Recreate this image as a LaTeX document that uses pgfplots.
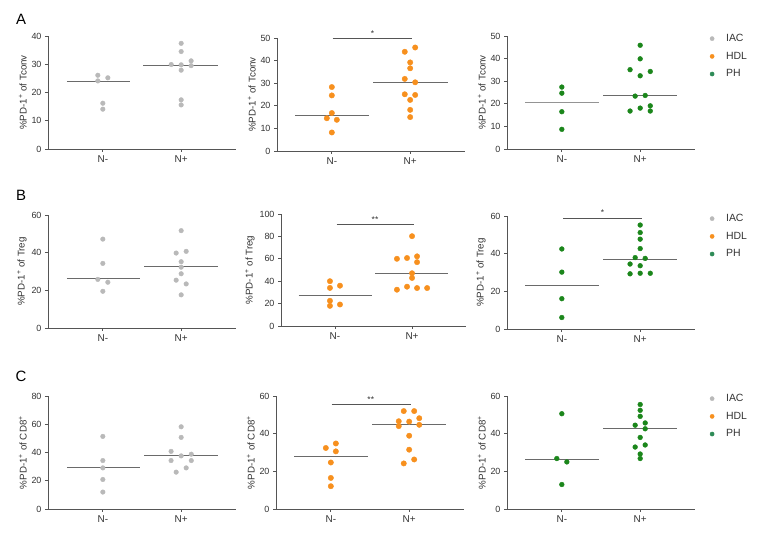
\documentclass[border=0pt]{standalone}
\usepackage{fontspec}
\setmainfont{Liberation Sans}
\usepackage{pgfplots}
\pgfplotsset{compat=1.18}
\definecolor{iacc}{HTML}{B9B9B9}
\definecolor{hdlc}{HTML}{F7901E}
\definecolor{phc}{HTML}{1B861B}
\definecolor{phleg}{HTML}{2E8B57}
\definecolor{axisc}{HTML}{555555}
\definecolor{meanc}{HTML}{6A6A6A}
\definecolor{tickc}{HTML}{333333}
\pgfplotsset{
  panel/.style={scale only axis, width=188bp, height=113bp,
    axis lines*=left, xmin=-0.7, xmax=1.7, ymin=0,
    xtick={0,1}, xticklabels={N-,N+},
    tick align=outside, major tick length=3bp,
    axis line style={draw=axisc, line width=0.8bp},
    tick style={draw=axisc, line width=0.8bp},
    clip=false, anchor=south west,
    /pgf/number format/assume math mode=true,
    yticklabel style={font=\fontsize{9}{10}\selectfont, text=tickc},
    xticklabel style={font=\fontsize{10}{11}\selectfont, text=tickc},
    ylabel style={font=\fontsize{9.8}{11}\selectfont, text=tickc, yshift=-2bp},
  },
  iac/.style={only marks, mark=*, mark size=2.3bp, color=iacc, forget plot},
  hdl/.style={only marks, mark=*, mark size=2.7bp, color=hdlc, forget plot},
  ph/.style={only marks, mark=*, mark size=2.4bp, color=phc, forget plot},
  meanl/.style={no marks, draw=meanc, line width=0.8bp, forget plot},
  sigl/.style={no marks, draw=axisc, line width=0.8bp, forget plot},
  legpanel/.style={
    legend style={at={(1.074,1.035)}, anchor=north west, draw=none, fill=none,
      inner sep=0pt, font=\fontsize{10.5}{12}\selectfont, row sep=5bp,
      text=tickc},
    legend cell align=left,
  },
  legdot/.style={legend image code/.code={%
    \draw[draw=none, only marks, mark=*, mark size=2.1bp, #1] plot coordinates {(3bp,0bp)};
    \path[draw=none, fill=none] (0bp,0bp) -- (15bp,0bp);}},
}
\newcommand\threelegend{%
\addlegendimage{legdot=iacc}
\addlegendentry{IAC}
\addlegendimage{legdot=hdlc}
\addlegendentry{HDL}
\addlegendimage{legdot=phleg}
\addlegendentry{PH}}
\begin{document}
\begin{tikzpicture}
\useasboundingbox (0,0) rectangle (774bp,533bp);
\node[font=\fontsize{15}{17}\selectfont, text=black] at (21bp,514bp) {A};
\node[font=\fontsize{15}{17}\selectfont, text=black] at (21bp,338bp) {B};
\node[font=\fontsize{15}{17}\selectfont, text=black] at (21bp,157bp) {C};

% ---------- A1 IAC Tconv
\begin{axis}[panel, at={(48bp,384bp)}, ymax=40, ytick={0,10,20,30,40},
  ylabel={\%PD-1\textsuperscript{+} of Tconv}]
\addplot[iac] coordinates {(-0.064,26.1) (-0.064,24.1) (0.064,25.2) (0,16.2) (0,14.1)};
\addplot[iac] coordinates {(1,37.4) (1,34.5) (0.873,29.9) (1,29.8) (1.127,31.2) (1.127,29.5) (1,27.9) (1,17.4) (1,15.6)};
\addplot[meanl] coordinates {(-0.46,24.1) (0.35,24.1)};
\addplot[meanl] coordinates {(0.515,29.6) (1.465,29.6)};
\end{axis}

% ---------- A2 HDL Tconv
\begin{axis}[panel, at={(277bp,382bp)}, ymax=50, ytick={0,10,20,30,40,50},
  ylabel={\%PD-1\textsuperscript{+} of Tconv}]
\addplot[hdl] coordinates {(0,28.3) (0,24.6) (0,16.8) (-0.064,14.5) (0.064,13.8) (0,8.2)};
\addplot[hdl] coordinates {(1.064,45.8) (0.931,43.9) (1,39.2) (1,36.6) (0.931,31.9) (1.064,30.4) (0.931,25.1) (1.064,24.8) (1,22.6) (1,18.2) (1,15.0)};
\addplot[meanl] coordinates {(-0.47,15.7) (0.47,15.7)};
\addplot[meanl] coordinates {(0.53,30.4) (1.48,30.4)};
\addplot[sigl] coordinates {(0.01,50) (1.02,50)};
\node[font=\fontsize{8.5}{9}\selectfont, text=tickc] at (axis cs:0.52,52) {*};
\end{axis}

% ---------- A3 PH Tconv
\begin{axis}[panel, legpanel, at={(507bp,384bp)}, ymax=50, ytick={0,10,20,30,40,50},
  ylabel={\%PD-1\textsuperscript{+} of Tconv}]
\addplot[ph] coordinates {(0,27.4) (0,24.7) (0,16.5) (0,8.7)};
\addplot[ph] coordinates {(1,45.9) (1,39.9) (0.871,35.1) (1.129,34.3) (1,32.4) (0.936,23.4) (1.064,23.7) (1.129,19.1) (1,18.1) (0.871,16.8) (1.129,16.8)};
\addplot[meanl, draw=iacc!80!black] coordinates {(-0.47,20.7) (0.47,20.7)};
\addplot[meanl] coordinates {(0.53,23.7) (1.47,23.7)};
\threelegend
\end{axis}

% ---------- B1 IAC Treg
\begin{axis}[panel, at={(48bp,205bp)}, ymax=60, ytick={0,20,40,60},
  ylabel={\%PD-1\textsuperscript{+} of Treg}]
\addplot[iac] coordinates {(0,47.2) (0,34.3) (-0.064,25.8) (0.064,24.3) (0,19.5)};
\addplot[iac] coordinates {(1,51.7) (0.936,39.8) (1.064,40.7) (1,35.2) (1,32.3) (1,28.8) (0.936,25.4) (1.064,23.4) (1,17.6)};
\addplot[meanl] coordinates {(-0.46,26.1) (0.47,26.1)};
\addplot[meanl] coordinates {(0.53,32.5) (1.47,32.5)};
\end{axis}

% ---------- B2 HDL Treg
\begin{axis}[panel, at={(281bp,207bp)}, width=185bp, height=112bp, ymax=100, ytick={0,20,40,60,80,100},
  ylabel={\%PD-1\textsuperscript{+} of Treg}]
\addplot[hdl] coordinates {(-0.065,40) (-0.065,34) (0.065,36) (-0.065,22.5) (-0.065,18) (0.065,19.2)};
\addplot[hdl] coordinates {(1,80.2) (0.804,60) (0.935,60.7) (1.065,62.2) (1.065,57) (1,47.1) (1,42.9) (0.935,35.1) (0.804,32.4) (1.065,33.9) (1.196,33.9)};
\addplot[meanl] coordinates {(-0.47,27.6) (0.48,27.6)};
\addplot[meanl] coordinates {(0.52,47.1) (1.47,47.1)};
\addplot[sigl] coordinates {(0.02,90.7) (1.02,90.7)};
\node[font=\fontsize{8.5}{9}\selectfont, text=tickc] at (axis cs:0.52,95) {**};
\end{axis}

% ---------- B3 PH Treg
\begin{axis}[panel, legpanel, at={(507bp,204bp)}, ymax=60, ytick={0,20,40,60},
  ylabel={\%PD-1\textsuperscript{+} of Treg}]
\addplot[ph] coordinates {(0,42.5) (0,30.2) (0,16.1) (0,6.1)};
\addplot[ph] coordinates {(1,55.2) (1,51.2) (1,47.7) (1,42.7) (0.936,37.9) (1.064,37.5) (0.871,34.5) (1,33.6) (0.871,29.3) (1,29.6) (1.129,29.6)};
\addplot[meanl] coordinates {(-0.47,23.0) (0.47,23.0)};
\addplot[meanl] coordinates {(0.53,37.1) (1.47,37.1)};
\addplot[sigl] coordinates {(0.02,58.9) (1.02,58.9)};
\node[font=\fontsize{8.5}{9}\selectfont, text=tickc] at (axis cs:0.52,61.8) {*};
\threelegend
\end{axis}

% ---------- C1 IAC CD8
\begin{axis}[panel, at={(48bp,24bp)}, ymax=80, ytick={0,20,40,60,80},
  ylabel={\%PD-1\textsuperscript{+} of CD8\textsuperscript{+}}]
\addplot[iac] coordinates {(0,51.4) (0,34.3) (0,29.1) (0,20.9) (0,12.0)};
\addplot[iac] coordinates {(1,58.2) (1,50.7) (0.871,40.8) (0.871,34.3) (1,37.6) (1.129,38.8) (1.129,34.3) (1.064,29.1) (0.936,26.1)};
\addplot[meanl] coordinates {(-0.46,29.3) (0.47,29.3)};
\addplot[meanl] coordinates {(0.53,37.6) (1.47,37.6)};
\end{axis}

% ---------- C2 HDL CD8
\begin{axis}[panel, at={(276bp,24bp)}, ymax=60, ytick={0,20,40,60},
  ylabel={\%PD-1\textsuperscript{+} of CD8\textsuperscript{+}}]
\addplot[hdl] coordinates {(-0.064,32.4) (0.064,34.8) (0.064,30.6) (0,24.7) (0,16.5) (0,12.1)};
\addplot[hdl] coordinates {(0.931,52) (1.064,52) (1.129,48.2) (0.867,46.6) (1,46.4) (0.867,44) (1.129,44.7) (1,38.9) (1,31.5) (1.064,26.3) (0.931,24.2)};
\addplot[meanl] coordinates {(-0.47,27.7) (0.47,27.7)};
\addplot[meanl] coordinates {(0.53,44.7) (1.47,44.7)};
\addplot[sigl] coordinates {(0.01,55.5) (1.02,55.5)};
\node[font=\fontsize{8.5}{9}\selectfont, text=tickc] at (axis cs:0.51,58) {**};
\end{axis}

% ---------- C3 PH CD8
\begin{axis}[panel, legpanel, at={(507bp,24bp)}, ymax=60, ytick={0,20,40,60},
  ylabel={\%PD-1\textsuperscript{+} of CD8\textsuperscript{+}}]
\addplot[ph] coordinates {(0,50.6) (-0.064,26.8) (0.064,25.0) (0,13.0)};
\addplot[ph] coordinates {(1,55.5) (1,52.4) (1,49.2) (0.936,44.5) (1.064,45.7) (1.064,42.6) (1,38) (0.936,32.9) (1.064,34) (1,29.2) (1,26.8)};
\addplot[meanl] coordinates {(-0.47,26.1) (0.47,26.1)};
\addplot[meanl] coordinates {(0.53,42.7) (1.47,42.7)};
\threelegend
\end{axis}
\end{tikzpicture}
\end{document}
